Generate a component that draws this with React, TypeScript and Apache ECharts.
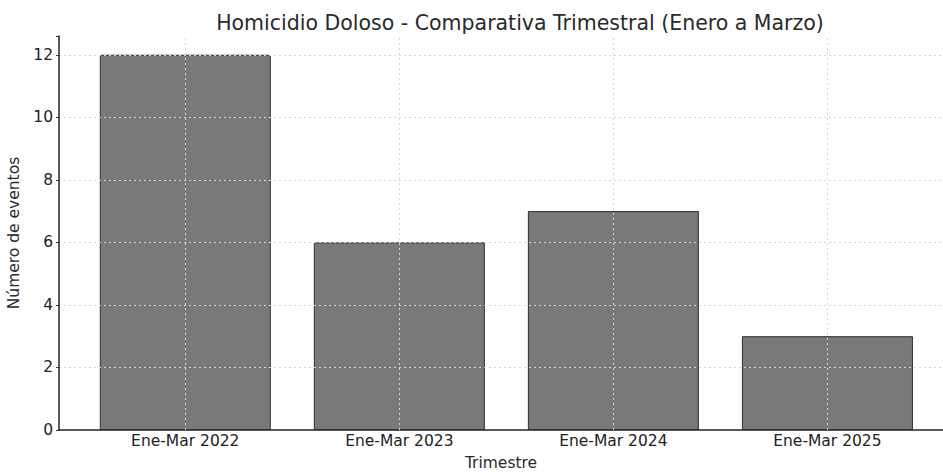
import React, { useEffect, useRef } from "react";
import * as echarts from "echarts";

const categories = ["Ene-Mar 2022", "Ene-Mar 2023", "Ene-Mar 2024", "Ene-Mar 2025"];
const values = [12, 6, 7, 3];
const yTicks = [0, 2, 4, 6, 8, 10, 12];
const titleText = "Homicidio Doloso - Comparativa Trimestral (Enero a Marzo)";
const xName = "Trimestre";
const yName = "Número de eventos";

const FONT = "DejaVu Sans";

export default function App() {
  const ref = useRef<HTMLDivElement>(null);
  useEffect(() => {
    if (!ref.current) return;
    const chart = echarts.init(ref.current, undefined, { renderer: "svg" });
    const idx = categories.map((_, i) => i);
    chart.setOption({
      animation: false,
      backgroundColor: "#ffffff",
      title: {
        text: titleText,
        left: 515,
        top: 7,
        textAlign: "center",
        textStyle: { fontFamily: FONT, fontSize: 20.5, fontWeight: "normal", color: "#2a2a2a" },
      },
      grid: { left: 59, right: 0, top: 36, bottom: 42, containLabel: false, outerBoundsMode: "none" },
      xAxis: {
        type: "value",
        min: -0.59,
        max: 3.54,
        name: xName,
        nameLocation: "middle",
        nameGap: 25,
        nameTextStyle: { fontFamily: FONT, fontSize: 15.5, color: "#2a2a2a" },
        axisLine: { show: true, onZero: false, lineStyle: { color: "#222", width: 1.5 } },
        axisTick: { show: false },
        splitLine: { show: false },
        axisLabel: {
          customValues: idx,
          formatter: (v: number) => categories[Math.round(v)] ?? "",
          fontFamily: FONT,
          fontSize: 15.5,
          color: "#222",
          margin: 3,
        },
      },
      yAxis: {
        type: "value",
        min: 0,
        max: 12.6,
        interval: 2,
        z: 3,
        name: yName,
        nameLocation: "middle",
        nameGap: 29,
        nameTextStyle: { fontFamily: FONT, fontSize: 15.5, color: "#2a2a2a" },
        axisLine: { show: true, onZero: false, lineStyle: { color: "#222", width: 1.5 } },
        axisTick: { show: true, length: 3, lineStyle: { color: "#333" } },
        axisLabel: {
          customValues: yTicks,
          fontFamily: FONT,
          fontSize: 15.5,
          color: "#222",
          margin: 6,
        },
        splitLine: {
          show: true,
          showMinLine: false,
          showMaxLine: false,
          lineStyle: { color: "#d6d6d6", type: [2, 3], width: 1 },
        },
      },
      series: [
        {
          type: "bar",
          data: values.map((v, i) => [i, v]),
          barWidth: 171,
          itemStyle: { color: "#797979", borderColor: "#2e2e2e", borderWidth: 1 },
          markLine: {
            silent: true,
            symbol: "none",
            label: { show: false },
            lineStyle: { color: "#d6d6d6", type: [2, 3], width: 1 },
            data: idx.map((i) => ({ xAxis: i })),
          },
        },
      ],
    });
    return () => chart.dispose();
  }, []);
  return <div ref={ref} style={{ width: 943, height: 472, position: "absolute", left: 0, top: 0 }} />;
}
